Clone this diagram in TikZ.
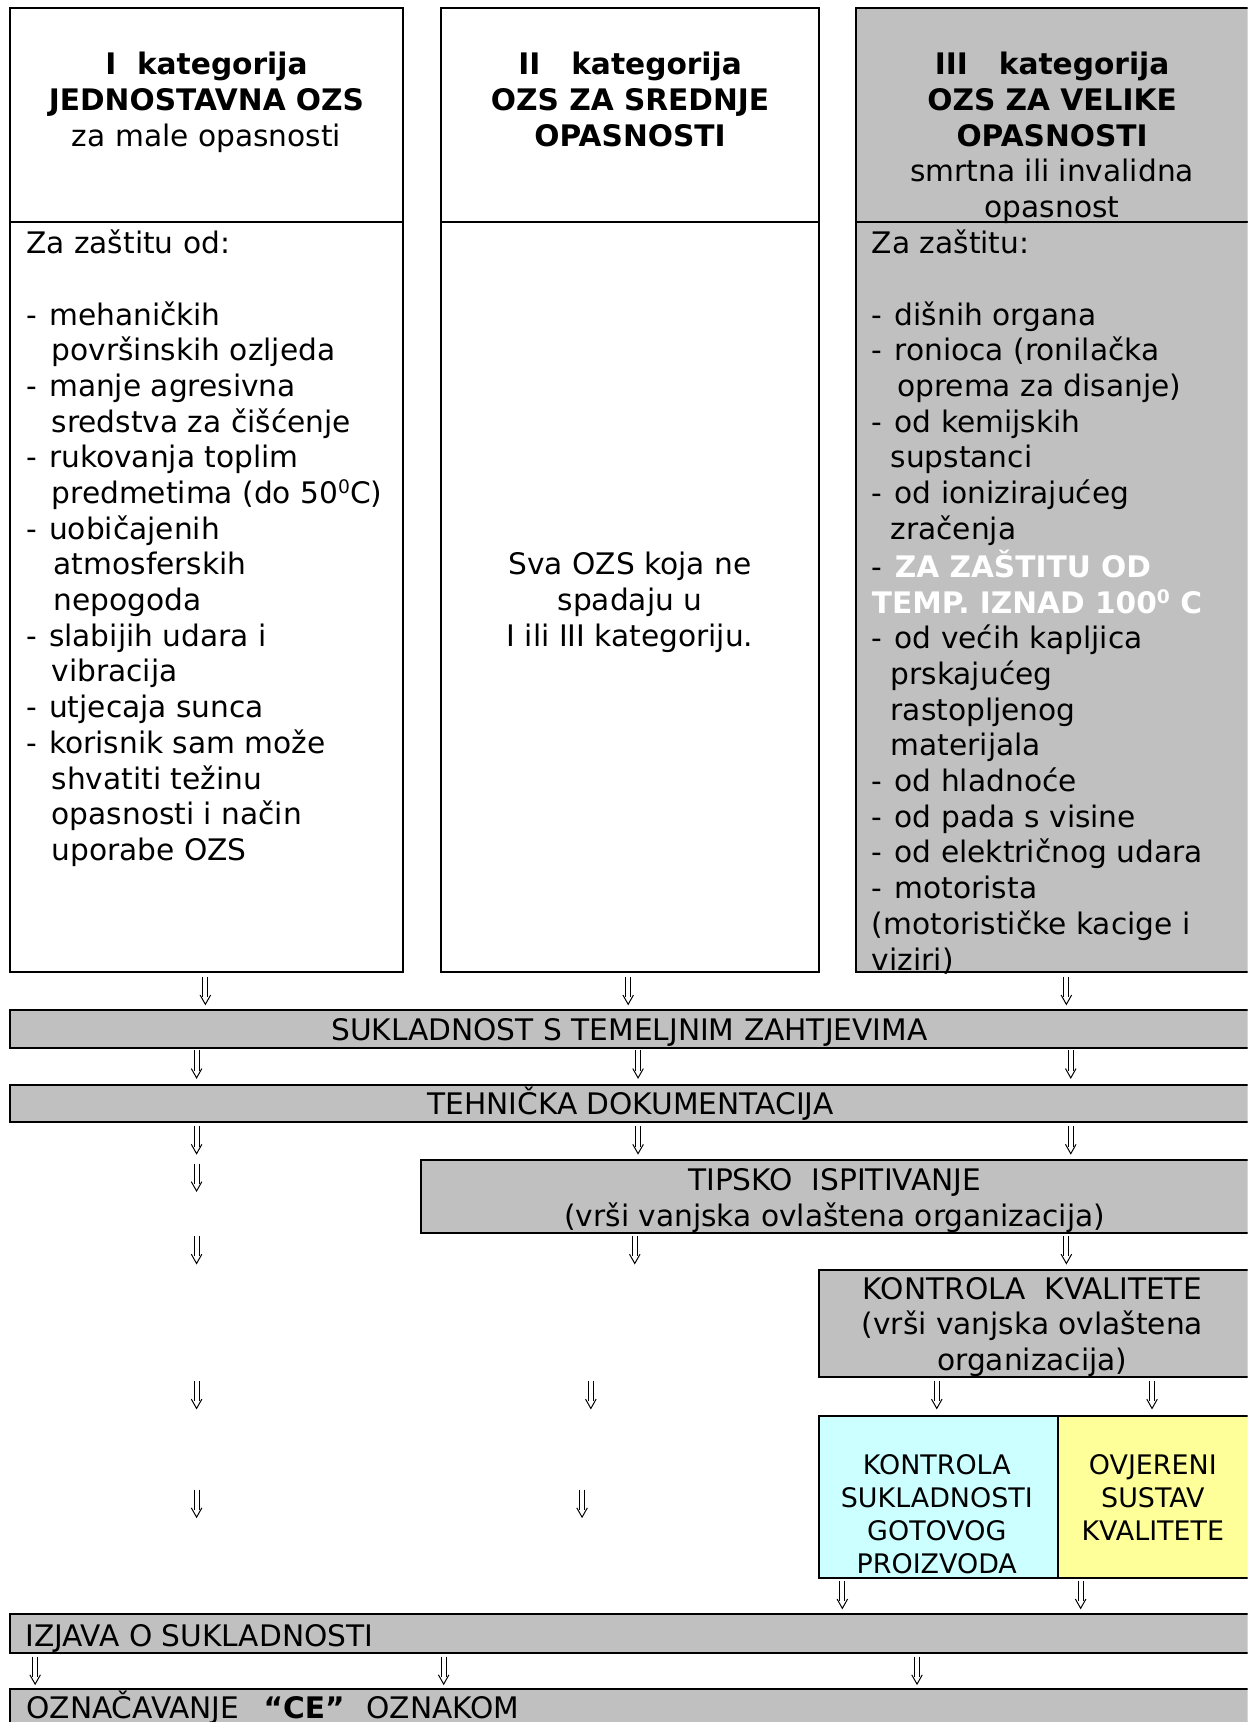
\documentclass[tikz,border=0pt]{standalone}
\usepackage{fontspec}
\setmainfont{DejaVu Sans}
\definecolor{grayfill}{HTML}{C0C0C0}
\definecolor{cyanfill}{HTML}{CCFFFF}
\definecolor{yellowfill}{HTML}{FFFF99}
\newcommand\fA{\fontsize{27}{32.5}\selectfont}
\newcommand\fB{\fontsize{24.5}{30}\selectfont}
\newcommand\degz{\raisebox{9pt}{\fontsize{17}{17}\selectfont 0}}
\newcommand\ind[1][23pt]{\hspace*{#1}}
\newcommand\dd{-\hspace{11pt}}
\tikzset{
  cell/.style={draw=black, line width=1.8pt, inner sep=0pt, outer sep=0pt, anchor=north west},
  txt/.style={inner sep=0pt, outer sep=0pt, anchor=base, font=\fA},
  txtl/.style={txt, anchor=base west},
  dnarr/.pic={
    \draw[line width=0.9pt] (-2.3,-12.5)--(-2.3,6) (2.3,-12.5)--(2.3,6);
    \draw[line width=0.9pt, line join=miter] (-4.8,4)--(0,12.5)--(4.8,4);
  }
}
\begin{document}
\begin{tikzpicture}[x=1pt,y=-1pt]
\useasboundingbox (0,0) rectangle (1136,1568);
\clip (0,0) rectangle (1136,1568);

% ---------- category boxes ----------
\node[cell, fill=white, minimum width=358pt, minimum height=194.7pt] (h1) at (9,7.3) {};
\node[cell, fill=white, minimum width=358pt, minimum height=683pt] (b1) at (9,202) {};
\node[cell, fill=white, minimum width=343.5pt, minimum height=194.7pt] (h2) at (402,7.3) {};
\node[cell, fill=white, minimum width=343.5pt, minimum height=683pt] (b2) at (402,202) {};
\node[cell, fill=grayfill, minimum width=380pt, minimum height=194.7pt] (h3) at (779,7.3) {};
\node[cell, fill=grayfill, minimum width=380pt, minimum height=683pt] (b3) at (779,202) {};

% headers
\node[txt] (t1) at (188,68) {\fA\begin{tabular}[t]{@{}c@{}}
\textbf{I\ \ kategorija}\\ \textbf{JEDNOSTAVNA OZS}\\ za male opasnosti\end{tabular}};
\node[txt] (t2) at (573.7,68) {\fA\begin{tabular}[t]{@{}c@{}}
\textbf{II\ \ \ kategorija}\\ \textbf{OZS ZA SREDNJE}\\ \textbf{OPASNOSTI}\end{tabular}};
\node[txt] (t3) at (958,68) {\fA\begin{tabular}[t]{@{}c@{}}
\textbf{III\ \ \ kategorija}\\ \textbf{OZS ZA VELIKE}\\ \textbf{OPASNOSTI}\\ smrtna ili invalidna\\ opasnost\end{tabular}};

% bodies
\node[txtl] (l1) at (24,231) {\fA\begin{tabular}[t]{@{}l@{}}
Za zaštitu od:\\
\\
\dd mehaničkih\\
\ind površinskih ozljeda\\
\dd manje agresivna\\
\ind sredstva za čišćenje\\
\dd rukovanja toplim\\
\ind predmetima (do 50\degz C)\\
\dd uobičajenih\\
\ind[25pt]atmosferskih\\
\ind[25pt]nepogoda\\
\dd slabijih udara i\\
\ind vibracija\\
\dd utjecaja sunca\\
\dd korisnik sam može\\
\ind shvatiti težinu\\
\ind opasnosti i način\\
\ind uporabe OZS\end{tabular}};

\node[txt] (l2) at (573.7,523.5) {\fA\begin{tabular}[t]{@{}c@{}}
Sva OZS koja ne\\ spadaju u\\ I ili III kategoriju.\end{tabular}};

\node[txtl] (l3) at (794,231) {\fA\begin{tabular}[t]{@{}l@{}}
Za zaštitu:\\
\\
\dd dišnih organa\\
\dd ronioca (ronilačka\\
\ind oprema za disanje)\\
\dd od kemijskih\\
\ind[17pt]supstanci\\
\dd od ionizirajućeg\\
\ind[17pt]zračenja\\
\dd {\bfseries\color{white}ZA ZAŠTITU OD}\\
{\bfseries\color{white}TEMP. IZNAD 100\degz\ C}\\
\dd od većih kapljica\\
\ind[17pt]prskajućeg\\
\ind[17pt]rastopljenog\\
\ind[17pt]materijala\\
\dd od hladnoće\\
\dd od pada s visine\\
\dd od električnog udara\\
\dd motorista\\
(motorističke kacige i\\
viziri)\end{tabular}};

% ---------- flow bars ----------
\node[cell, fill=grayfill, minimum width=1140pt, minimum height=34pt] (sukl) at (9,920) {};
\node[txt] (suklt) at (573,947) {SUKLADNOST S TEMELJNIM ZAHTJEVIMA};
\node[cell, fill=grayfill, minimum width=1140pt, minimum height=34pt] (tehn) at (9,988) {};
\node[txt] (tehnt) at (574,1015) {TEHNIČKA DOKUMENTACIJA};
\node[cell, fill=grayfill, minimum width=770pt, minimum height=67pt] (tips) at (383.5,1056) {};
\node[txt] (tipst) at (760,1084) {\fA\begin{tabular}[t]{@{}c@{}}
TIPSKO\ \ ISPITIVANJE\\ (vrši vanjska ovlaštena organizacija)\end{tabular}};
\node[cell, fill=grayfill, minimum width=400pt, minimum height=97.5pt] (kkv) at (746,1156) {};
\node[txt] (kkvt) at (940,1183) {\fA\begin{tabular}[t]{@{}c@{}}
KONTROLA\ \ KVALITETE\\ (vrši vanjska ovlaštena\\ organizacija)\end{tabular}};
\node[cell, fill=cyanfill, minimum width=217.6pt, minimum height=148pt] (cyb) at (746,1289) {};
\node[cell, fill=yellowfill, minimum width=190pt, minimum height=148pt] (yeb) at (963.6,1289) {};
\node[txt] (cybt) at (853,1343) {\fB\begin{tabular}[t]{@{}c@{}}
KONTROLA\\ SUKLADNOSTI\\ GOTOVOG\\ PROIZVODA\end{tabular}};
\node[txt] (yebt) at (1049.7,1343) {\fB\begin{tabular}[t]{@{}c@{}}
OVJERENI\\ SUSTAV\\ KVALITETE\end{tabular}};
\node[cell, fill=grayfill, minimum width=1140pt, minimum height=35pt] (izj) at (9,1470) {};
\node[txtl] (izjt) at (23,1499) {IZJAVA O SUKLADNOSTI};
\node[cell, fill=grayfill, minimum width=1140pt, minimum height=60pt] (ozn) at (9,1538) {};
\node[txtl] (oznt) at (24,1565) {OZNAČAVANJE\hspace{22pt}\textbf{“CE”}\hspace{20pt}OZNAKOM};

% ---------- arrows ----------
\foreach \x in {187,572,971} {\pic at (\x,902) {dnarr};}
\foreach \x in {179,581,975} {\pic at (\x,969) {dnarr};}
\foreach \x in {179,581,975} {\pic at (\x,1038) {dnarr};}
\pic at (179,1072) {dnarr};
\foreach \x in {179,578,971} {\pic at (\x,1138) {dnarr};}
\foreach \x in {179,538,853,1049} {\pic at (\x,1270) {dnarr};}
\foreach \x in {179,530} {\pic at (\x,1369) {dnarr};}
\foreach \x in {767,984} {\pic at (\x,1452) {dnarr};}
\foreach \x in {32,404,835} {\pic at (\x,1521) {dnarr};}
\end{tikzpicture}
\end{document}
